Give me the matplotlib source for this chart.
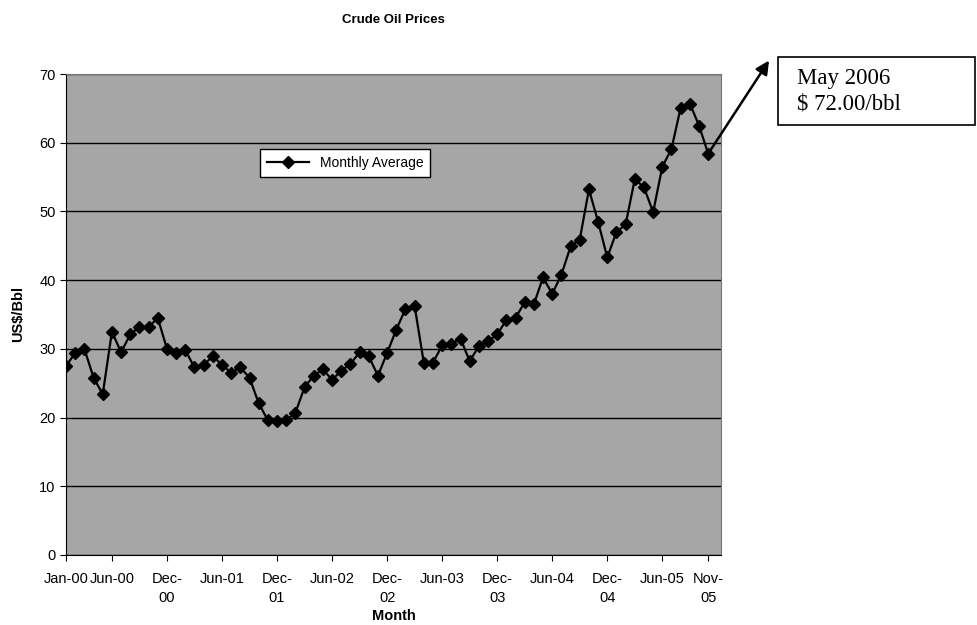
import numpy as np
from matplotlib import pyplot as plt
from matplotlib.patches import Rectangle

# monthly average crude price, Jan-00 .. Nov-05 (US$/bbl)
prices = [27.5, 29.4, 30.0, 25.8, 23.4, 32.5, 29.5, 32.1, 33.2, 33.2, 34.5, 30.0,
          29.4, 29.8, 27.3, 27.7, 28.9, 27.7, 26.5, 27.3, 25.8, 22.1, 19.6, 19.5,
          19.6, 20.7, 24.4, 26.1, 27.0, 25.5, 26.8, 27.8, 29.5, 28.9, 26.1, 29.4,
          32.8, 35.8, 36.2, 28.0, 28.0, 30.5, 30.7, 31.5, 28.2, 30.4, 31.1, 32.1,
          34.2, 34.5, 36.8, 36.5, 40.4, 38.0, 40.8, 44.9, 45.9, 53.2, 48.5, 43.3,
          47.0, 48.1, 54.7, 53.5, 49.9, 56.5, 59.1, 65.1, 65.7, 62.5, 58.4]
tickPos = [0, 5, 11, 17, 23, 29, 35, 41, 47, 53, 59, 65, 70]
tickLab = ['Jan-00', 'Jun-00', 'Dec-\n00', 'Jun-01', 'Dec-\n01', 'Jun-02', 'Dec-\n02',
           'Jun-03', 'Dec-\n03', 'Jun-04', 'Dec-\n04', 'Jun-05', 'Nov-\n05']
# projected point (May 2006)
mayIdx = 76.8
mayPrice = 72.3

plt.rcParams['font.family'] = ['Liberation Sans', 'DejaVu Sans']
fig = plt.figure(figsize=(9.77, 6.25), dpi=100)
ax = fig.add_axes([0.0676, 0.112, 0.6704, 0.7696])
ax.set_facecolor('#a6a6a6')
x = np.arange(len(prices))
ax.plot(x, prices, color='black', lw=1.6, marker='D', markersize=6, label='Monthly Average')
ax.set_xlim(0, 71.4)
ax.set_ylim(0, 70)
ax.set_yticks(range(0, 71, 10))
ax.yaxis.grid(True, color='black', lw=1)
ax.set_axisbelow(True)
ax.set_xticks(tickPos)
ax.set_xticklabels(tickLab, fontsize=10.5, linespacing=1.5, va='top')
ax.tick_params(axis='y', labelsize=10.5, length=4)
ax.tick_params(axis='x', length=4, pad=8)
for s in ['top', 'right']:
    ax.spines[s].set_color('#777777')
    ax.spines[s].set_linewidth(0.8)
ax.set_xlabel('Month', fontsize=10.5, fontweight='bold', labelpad=3)
ax.set_ylabel('US$/Bbl', fontsize=10.5, fontweight='bold', labelpad=10)
ax.set_title('Crude Oil Prices', fontsize=9.5, fontweight='bold', pad=37)
leg = ax.legend(loc='center', bbox_to_anchor=(0.426, 0.815), fontsize=10, frameon=True,
                fancybox=False, edgecolor='black', framealpha=1, handlelength=3,
                borderpad=0.5)
leg.get_frame().set_linewidth(1)

# arrow toward the May 2006 price
ax.annotate('', xy=(mayIdx, mayPrice), xytext=(len(prices) - 1, prices[-1]),
            arrowprops=dict(arrowstyle='-|>', color='black', lw=1.8, mutation_scale=20),
            annotation_clip=False)
fig.patches.append(Rectangle((0.7963, 0.8), 0.2016, 0.1088, transform=fig.transFigure,
                             facecolor='white', edgecolor='black', lw=1.2))
fig.text(0.8158, 0.8544, 'May 2006\n$ 72.00/bbl', family='Liberation Serif', fontsize=16.5,
         va='center', ha='left', linespacing=1.3)

plt.savefig('out.png', dpi=100)
